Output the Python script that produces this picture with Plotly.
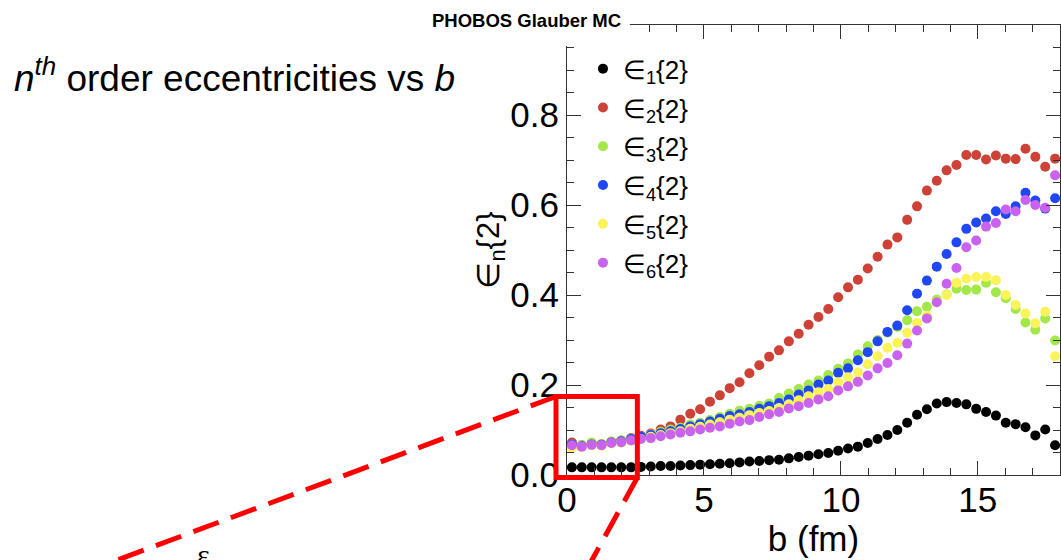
import plotly.graph_objects as go

# impact parameter bin centres (fm)
b_fm = [0.18, 0.54, 0.90, 1.26, 1.62, 1.98, 2.34, 2.70, 3.06, 3.42,
        3.78, 4.14, 4.50, 4.86, 5.22, 5.58, 5.94, 6.30, 6.66, 7.02,
        7.38, 7.74, 8.10, 8.46, 8.82, 9.18, 9.54, 9.90, 10.26, 10.62,
        10.98, 11.34, 11.70, 12.06, 12.42, 12.78, 13.14, 13.50, 13.86, 14.22,
        14.58, 14.94, 15.30, 15.66, 16.02, 16.38, 16.74, 17.10, 17.46, 17.82]

eps1 = [0.017, 0.017, 0.017, 0.017, 0.017, 0.017, 0.017, 0.018, 0.019, 0.020,
        0.020, 0.021, 0.022, 0.023, 0.024, 0.025, 0.026, 0.028, 0.030, 0.031,
        0.033, 0.034, 0.037, 0.040, 0.043, 0.046, 0.049, 0.054, 0.059, 0.063,
        0.071, 0.080, 0.089, 0.100, 0.116, 0.134, 0.146, 0.159, 0.162, 0.160,
        0.157, 0.147, 0.140, 0.132, 0.116, 0.113, 0.106, 0.088, 0.101, 0.066]

eps2 = [0.072, 0.066, 0.070, 0.068, 0.074, 0.076, 0.082, 0.087, 0.092, 0.101,
        0.108, 0.123, 0.136, 0.146, 0.163, 0.177, 0.193, 0.206, 0.226, 0.244,
        0.263, 0.277, 0.297, 0.314, 0.334, 0.351, 0.369, 0.395, 0.417, 0.434,
        0.459, 0.485, 0.512, 0.528, 0.567, 0.597, 0.632, 0.654, 0.677, 0.689,
        0.711, 0.711, 0.701, 0.710, 0.703, 0.702, 0.725, 0.707, 0.685, 0.703]

eps3 = [0.068, 0.066, 0.072, 0.069, 0.074, 0.077, 0.081, 0.085, 0.090, 0.096,
        0.101, 0.105, 0.112, 0.116, 0.122, 0.129, 0.136, 0.143, 0.147, 0.154,
        0.159, 0.171, 0.181, 0.191, 0.201, 0.210, 0.222, 0.236, 0.248, 0.268,
        0.286, 0.300, 0.316, 0.329, 0.344, 0.364, 0.374, 0.390, 0.401, 0.414,
        0.411, 0.412, 0.427, 0.406, 0.393, 0.369, 0.339, 0.323, 0.348, 0.299]

eps4 = [0.068, 0.064, 0.068, 0.067, 0.072, 0.075, 0.080, 0.085, 0.089, 0.093,
        0.097, 0.102, 0.108, 0.113, 0.119, 0.125, 0.131, 0.135, 0.140, 0.147,
        0.153, 0.160, 0.168, 0.179, 0.188, 0.201, 0.210, 0.227, 0.237, 0.255,
        0.273, 0.297, 0.318, 0.332, 0.366, 0.403, 0.432, 0.463, 0.491, 0.517,
        0.547, 0.561, 0.570, 0.586, 0.580, 0.597, 0.627, 0.610, 0.592, 0.615]

eps5 = [0.060, 0.062, 0.066, 0.065, 0.070, 0.072, 0.076, 0.080, 0.085, 0.089,
        0.093, 0.097, 0.103, 0.107, 0.112, 0.117, 0.123, 0.127, 0.133, 0.138,
        0.142, 0.149, 0.157, 0.166, 0.175, 0.184, 0.191, 0.206, 0.217, 0.228,
        0.246, 0.264, 0.283, 0.294, 0.316, 0.338, 0.354, 0.385, 0.400, 0.427,
        0.436, 0.440, 0.440, 0.433, 0.400, 0.378, 0.359, 0.337, 0.363, 0.264]

eps6 = [0.066, 0.063, 0.067, 0.066, 0.071, 0.073, 0.077, 0.080, 0.082, 0.086,
        0.090, 0.094, 0.097, 0.101, 0.105, 0.108, 0.114, 0.119, 0.122, 0.129,
        0.135, 0.140, 0.148, 0.153, 0.160, 0.168, 0.175, 0.188, 0.197, 0.207,
        0.221, 0.237, 0.249, 0.266, 0.292, 0.321, 0.348, 0.384, 0.425, 0.460,
        0.506, 0.521, 0.552, 0.560, 0.590, 0.586, 0.611, 0.600, 0.594, 0.666]

series_names = ["∈<sub>1</sub>{2}", "∈<sub>2</sub>{2}", "∈<sub>3</sub>{2}",
                "∈<sub>4</sub>{2}", "∈<sub>5</sub>{2}", "∈<sub>6</sub>{2}"]
series_values = [eps1, eps2, eps3, eps4, eps5, eps6]
series_colors = ["#000000", "#cd4136", "#a3e84a", "#1f48f2", "#fbf35a", "#c962ef"]

y_tick_vals = [0.0, 0.2, 0.4, 0.6, 0.8]
y_tick_text = ["0.0", "0.2", "0.4", "0.6", "0.8"]
x_tick_vals = [0, 5, 10, 15]

FONT = "Liberation Sans, Arial, Helvetica, sans-serif"
AXIS = "#333333"

fig = go.Figure()
for k, (name, vals, col) in enumerate(zip(series_names, series_values, series_colors)):
    fig.add_trace(go.Scatter(
        x=b_fm, y=vals, mode="markers", name=name,
        legendgroup=f"g{k}",
        marker=dict(color=col, size=10, line=dict(width=0)),
        hoverinfo="skip",
    ))

axis_common = dict(
    showline=True, linecolor=AXIS, linewidth=1, mirror="ticks",
    ticks="inside", ticklen=14, tickwidth=1, tickcolor=AXIS,
    showgrid=False, zeroline=False,
    tickfont=dict(family=FONT, size=35, color="black"),
)

fig.update_xaxes(
    range=[0, 18], tickvals=x_tick_vals, ticklabelstandoff=-6,
    minor=dict(ticks="inside", ticklen=7, dtick=1, tickcolor=AXIS, tickwidth=1, showgrid=False),
    title=dict(text="b (fm)", font=dict(family=FONT, size=35, color="black"), standoff=8),
    **axis_common,
)
fig.update_yaxes(
    range=[0, 1], tickvals=y_tick_vals, ticktext=y_tick_text,
    minor=dict(ticks="inside", ticklen=7, dtick=0.05, tick0=0, tickcolor=AXIS, tickwidth=1, showgrid=False),
    title=dict(text="∈<sub>n</sub>{2}", font=dict(family=FONT, size=31, color="black"), standoff=0),
    **axis_common,
)

# zoom box and dashed guide lines (paper coordinates)
RED = "#ff0000"
fig.add_shape(type="rect", xref="paper", yref="paper",
              x0=-0.0223, x1=0.1427, y0=-0.0056, y1=0.1744,
              line=dict(color=RED, width=5), layer="above")
fig.add_shape(type="line", xref="paper", yref="paper",
              x0=-0.0223, y0=0.1744, x1=-1.0263, y1=-0.2356,
              line=dict(color=RED, width=5, dash="27px,13px"), layer="above")
fig.add_shape(type="line", xref="paper", yref="paper",
              x0=0.1427, y0=-0.0056, x1=0.0283, y1=-0.2333,
              line=dict(color=RED, width=5, dash="27px,13px"), layer="above")

# white label panel behind the generator tag
fig.add_shape(type="rect", xref="paper", yref="paper",
              x0=-0.40, x1=0.1275, y0=0.9533, y1=1.10,
              line=dict(width=0), fillcolor="white", layer="above")

fig.add_annotation(text="<b>PHOBOS Glauber MC</b>", xref="paper", yref="paper",
                   x=-0.083, y=1.011, xanchor="center", yanchor="middle",
                   showarrow=False, font=dict(family=FONT, size=18.5, color="black"))

fig.add_annotation(text="<i>n</i><sup><i>th</i></sup> order eccentricities vs <i>b</i>",
                   xref="paper", yref="paper", x=-1.1255, y=0.8867,
                   xanchor="left", yanchor="middle", showarrow=False,
                   font=dict(family=FONT, size=37, color="black"))

fig.add_annotation(text="ε", xref="paper", yref="paper", x=-0.7364, y=-0.176,
                   xanchor="center", yanchor="middle", showarrow=False,
                   font=dict(family="Liberation Serif, DejaVu Serif, serif", size=30, color="black"))

fig.update_layout(
    width=1061, height=560,
    margin=dict(l=567, r=1, t=25, b=85),
    paper_bgcolor="white", plot_bgcolor="white",
    showlegend=True,
    legend=dict(x=0.0324, y=0.955, xanchor="left", yanchor="top",
                bgcolor="rgba(0,0,0,0)", font=dict(family=FONT, size=26, color="black"),
                tracegroupgap=2, itemsizing="trace"),
    font=dict(family=FONT),
)

fig.write_html("out.html")
